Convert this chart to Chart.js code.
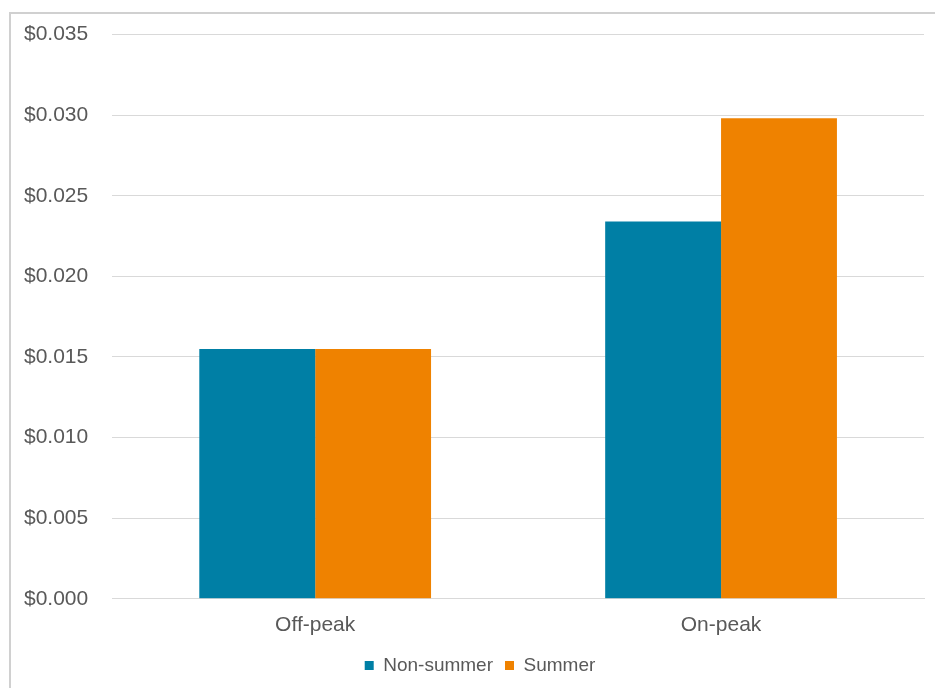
<!DOCTYPE html>
<html>
<head>
<meta charset="utf-8">
<script src="https://cdn.jsdelivr.net/npm/chart.js@4"></script>
<style>
  html, body { margin: 0; padding: 0; background: #fff; overflow: hidden; }
  #frame {
    position: absolute; left: 9px; top: 12px;
    width: 960px; height: 700px;
    border: 2px solid #d0d0d0;
  }
  #wrap { position: absolute; left: 0; top: 0; width: 935px; height: 688px; }
</style>
</head>
<body>
<div id="frame"></div>
<div id="wrap"><canvas id="rateChart"></canvas></div>
<script>
// Rate data
const periods = ["Off-peak", "On-peak"];
const nonSummer = [0.0155, 0.0234];
const summer = [0.0155, 0.0298];
const yTicks = [0, 0.005, 0.010, 0.015, 0.020, 0.025, 0.030, 0.035];

const textColor = "#595959";
const gridColor = "#d9d9d9";

Chart.defaults.font.family = "'Liberation Sans', Arial, sans-serif";
Chart.defaults.color = textColor;

// nudge the legend a little to the right of the canvas centre
const legendShift = {
    id: "legendShift",
    afterLayout(chart) {
        chart.legend.left += 18;
        chart.legend.right += 18;
    }
};

const chart = new Chart(document.getElementById("rateChart"), {
    type: "bar",
    data: {
        labels: periods,
        datasets: [
            {
                label: "Non-summer",
                data: nonSummer,
                backgroundColor: "#007fa5",
                categoryPercentage: 0.571,
                barPercentage: 1
            },
            {
                label: "Summer",
                data: summer,
                backgroundColor: "#ef8200",
                categoryPercentage: 0.571,
                barPercentage: 1
            }
        ]
    },
    options: {
        responsive: true,
        maintainAspectRatio: false,
        animation: false,
        layout: {
            padding: { left: 0, right: 11, top: 15, bottom: 3 }
        },
        plugins: {
            tooltip: { enabled: false },
            legend: {
                position: "bottom",
                labels: {
                    boxWidth: 9,
                    boxHeight: 9,
                    padding: 12,
                    color: textColor,
                    font: { size: 19 }
                }
            }
        },
        scales: {
            x: {
                grid: { display: false },
                border: { color: gridColor },
                ticks: { font: { size: 21 }, padding: 6 }
            },
            y: {
                min: 0,
                max: 0.035,
                afterBuildTicks: (axis) => {
                    axis.ticks = yTicks.map(v => ({ value: v }));
                },
                grid: { color: gridColor, drawTicks: false },
                border: { display: false },
                ticks: {
                    font: { size: 21, lineHeight: 1 },
                    padding: 24,
                    callback: (v) => "$" + Number(v).toFixed(3)
                }
            }
        }
    },
    plugins: [legendShift]
});
</script>
</body>
</html>
